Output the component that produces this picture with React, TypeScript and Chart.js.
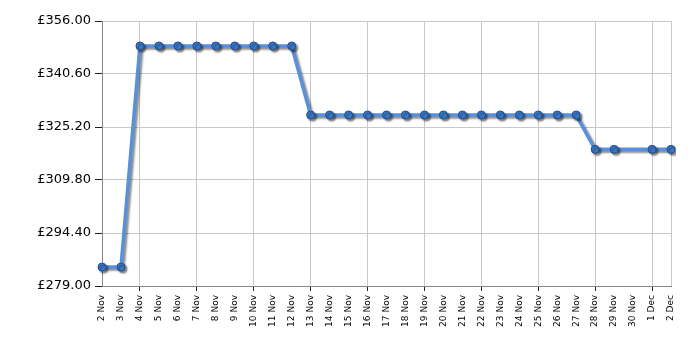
import React, { useEffect, useRef } from "react";
import { Chart, registerables } from "chart.js";

Chart.register(...registerables);

const dates = [
  "2 Nov", "3 Nov", "4 Nov", "5 Nov", "6 Nov", "7 Nov", "8 Nov", "9 Nov", "10 Nov", "11 Nov",
  "12 Nov", "13 Nov", "14 Nov", "15 Nov", "16 Nov", "17 Nov", "18 Nov", "19 Nov", "20 Nov", "21 Nov",
  "22 Nov", "23 Nov", "24 Nov", "25 Nov", "26 Nov", "27 Nov", "28 Nov", "29 Nov", "30 Nov", "1 Dec", "2 Dec",
];

const prices: (number | null)[] = [
  284.5, 284.5,
  348.75, 348.75, 348.75, 348.75, 348.75, 348.75, 348.75, 348.75, 348.75,
  328.7, 328.7, 328.7, 328.7, 328.7, 328.7, 328.7, 328.7, 328.7, 328.7, 328.7, 328.7, 328.7, 328.7, 328.7,
  318.7, 318.7, null, 318.7, 318.7,
];

const yTicks = [279, 294.4, 309.8, 325.2, 340.6, 356];
const gridEvery = 3;
const gridStart = 2;

const shadowPlugin = {
  id: "lineShadow",
  beforeDatasetsDraw(chart: any) {
    const ctx = chart.ctx;
    ctx.save();
    ctx.shadowColor = "rgba(0,0,0,0.45)";
    ctx.shadowOffsetX = 2;
    ctx.shadowOffsetY = 2;
    ctx.shadowBlur = 2;
  },
  afterDatasetsDraw(chart: any) {
    chart.ctx.restore();
  },
};

export default function App() {
  const ref = useRef<HTMLCanvasElement | null>(null);

  useEffect(() => {
    document.body.style.margin = "0";
    const isGrid = (i: number) =>
      i === dates.length - 1 || (i >= gridStart && (i - gridStart) % gridEvery === 0);
    const chart = new Chart(ref.current as HTMLCanvasElement, {
      type: "line",
      data: {
        labels: dates,
        datasets: [
          {
            data: prices,
            spanGaps: true,
            borderColor: "#5890dc",
            borderWidth: 3.5,
            pointRadius: 4,
            pointBackgroundColor: "#3c78c8",
            pointBorderColor: "#1f4f90",
            pointBorderWidth: 1,
            tension: 0,
          },
        ],
      },
      options: {
        responsive: false,
        animation: false,
        layout: { padding: { top: 21, right: 29, left: 0, bottom: 0 } },
        plugins: { legend: { display: false }, tooltip: { enabled: false } },
        scales: {
          x: {
            type: "category",
            offset: false,
            afterFit(scale: any) {
              scale.height = 64;
            },
            grid: {
              color: (c: any) => (isGrid(c.index) ? "#c8c8c8" : "rgba(0,0,0,0)"),
              tickColor: (c: any) => (isGrid(c.index) && c.index !== dates.length - 1 ? "#222" : "rgba(0,0,0,0)"),
              tickLength: 5,
              lineWidth: 1,
            },
            border: { color: "#888", width: 1 },
            ticks: {
              autoSkip: false,
              minRotation: 90,
              maxRotation: 90,
              padding: 4,
              color: "#000",
              font: { family: "DejaVu Sans", size: 9 },
            },
          },
          y: {
            min: 279,
            max: 356,
            afterBuildTicks(scale: any) {
              scale.ticks = yTicks.map((v) => ({ value: v }));
            },
            afterFit(scale: any) {
              scale.width = 102;
            },
            grid: {
              color: "#c8c8c8",
              tickColor: "#222",
              tickLength: 7,
            },
            border: { color: "#888", width: 1 },
            ticks: {
              padding: 4,
              color: "#000",
              font: { family: "DejaVu Sans", size: 13 },
              callback: (v: any) => "£" + Number(v).toFixed(2),
            },
          },
        },
      },
      plugins: [shadowPlugin],
    });
    return () => chart.destroy();
  }, []);

  return (
    <div style={{ width: 700, height: 350, background: "#fff" }}>
      <canvas ref={ref} width={700} height={350} />
    </div>
  );
}
